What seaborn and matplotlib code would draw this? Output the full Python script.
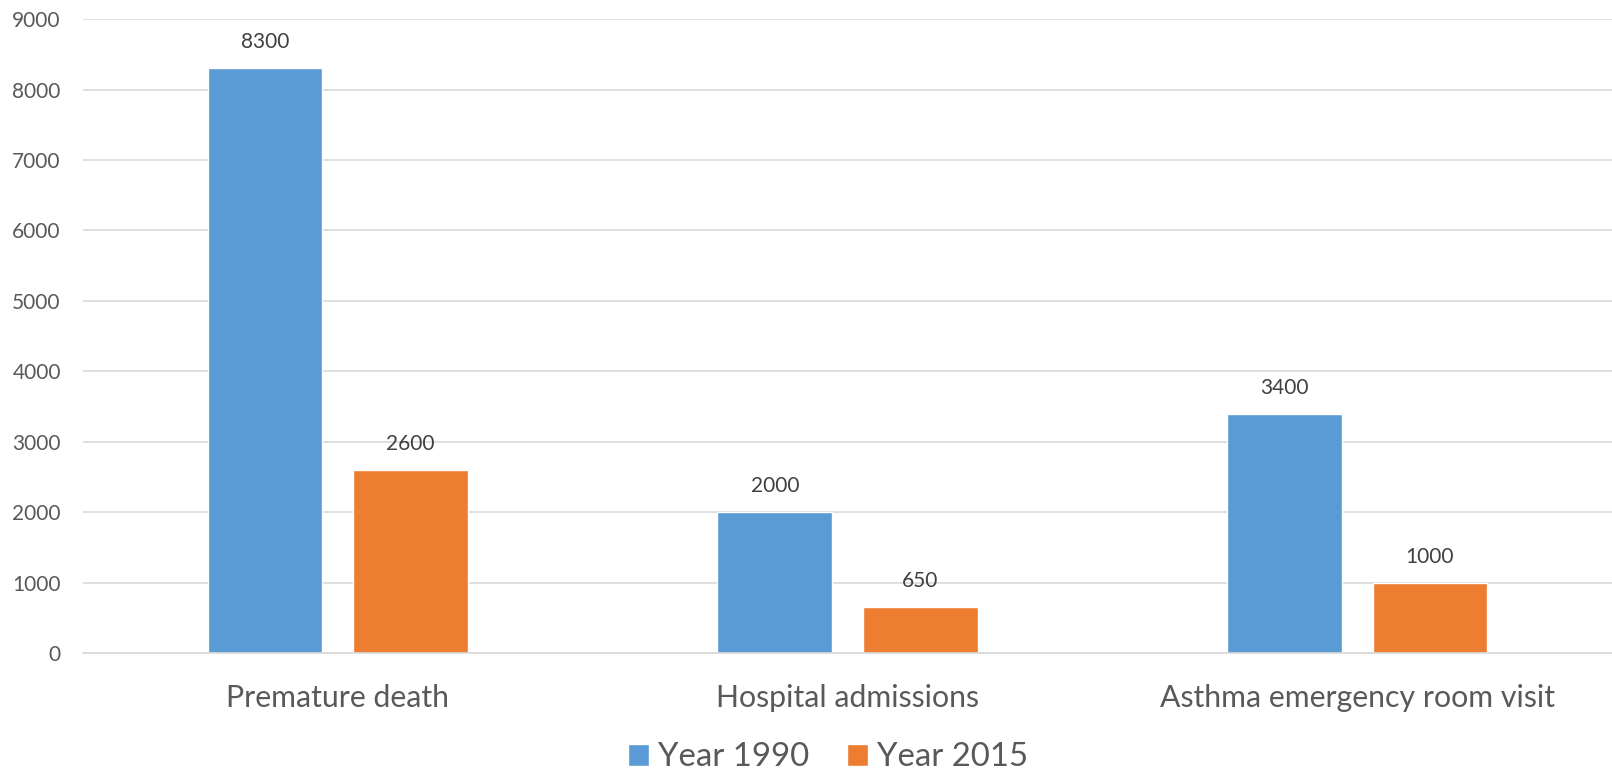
import matplotlib
matplotlib.use("Agg")
import matplotlib.pyplot as plt
import seaborn as sns
import pandas as pd

categories = ["Premature death", "Hospital admissions", "Asthma emergency room visit"]
series_names = ["Year 1990", "Year 2015"]
values_1990 = [8300, 2000, 3400]
values_2015 = [2600, 650, 1000]
yticks = [0, 1000, 2000, 3000, 4000, 5000, 6000, 7000, 8000, 9000]

df = pd.DataFrame({
    "category": categories * 2,
    "series": [series_names[0]] * 3 + [series_names[1]] * 3,
    "value": values_1990 + values_2015,
})

sns.set_theme(style="white")
plt.rcParams['font.family'] = ['Lato', 'DejaVu Sans']

fig = plt.figure(figsize=(16.12, 7.74), dpi=100)
ax = fig.add_axes([0.0515, 0.1563, 0.9485, 0.819])

colors = ["#5B9BD5", "#ED7D31"]
sns.barplot(data=df, x="category", y="value", hue="series", palette=colors,
            width=0.571, gap=0.213, ax=ax, saturation=1, legend=True)

ax.set_ylim(0, 9000)
ax.set_yticks(yticks)
ax.set_yticklabels([str(t) for t in yticks], fontsize=15, color="#595959")
ax.tick_params(axis="x", labelsize=21.8, colors="#595959", length=0, pad=22)
ax.tick_params(axis="y", length=0, pad=16)
ax.set_xlabel("")
ax.set_ylabel("")
ax.yaxis.grid(True, color="#D9D9D9", linewidth=1.2)
ax.set_axisbelow(True)
for s in ["top", "right", "left"]:
    ax.spines[s].set_visible(False)
ax.spines["bottom"].set_color("#D9D9D9")
ax.spines["bottom"].set_linewidth(1.2)
ax.set_xlim(-0.5, 2.5)

for cont in ax.containers:
    ax.bar_label(cont, labels=[f"{int(v)}" for v in cont.datavalues],
                 padding=11.5, fontsize=15, color="#404040")

handles, labels = ax.get_legend_handles_labels()
ax.get_legend().remove()
fig.legend(handles, labels, loc="lower center", bbox_to_anchor=(0.5136, -0.036), ncol=2,
           frameon=False, fontsize=23.7, handlelength=0.64, handleheight=0.64,
           columnspacing=1.15, handletextpad=0.27, labelcolor="#595959")

fig.savefig("out.png", dpi=100)
